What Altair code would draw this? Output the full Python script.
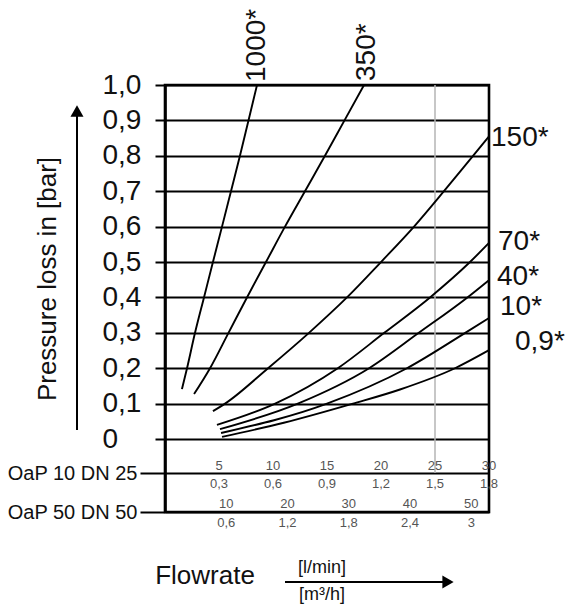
import altair as alt
import pandas as pd

# ---- Pressure-loss curves: flowrate in l/min (OaP 10 DN 25 scale) vs pressure loss in bar ----
series_names = ["1000*", "350*", "150*", "70*", "40*", "10*", "0,9*"]

flow_1000 = [1.57, 2.04, 2.78, 3.61, 4.44, 5.28, 6.11, 6.94, 7.73, 8.52]
loss_1000 = [0.141, 0.2, 0.3, 0.4, 0.5, 0.6, 0.7, 0.8, 0.9, 1.0]

flow_350 = [2.69, 4.17, 5.88, 7.59, 9.35, 11.11, 12.96, 14.81, 16.62, 18.43]
loss_350 = [0.127, 0.2, 0.3, 0.4, 0.5, 0.6, 0.7, 0.8, 0.9, 1.0]

flow_150 = [4.44, 5.56, 9.54, 13.33, 16.85, 20.0, 23.06, 25.83, 28.52, 30.0]
loss_150 = [0.079, 0.1, 0.2, 0.3, 0.4, 0.5, 0.6, 0.7, 0.8, 0.855]

flow_70 = [4.81, 10.2, 16.0, 20.3, 24.54, 28.24, 30.0]
loss_70 = [0.040, 0.1, 0.2, 0.3, 0.4, 0.5, 0.554]

flow_40 = [5.09, 12.3, 18.9, 23.5, 28.0, 30.0]
loss_40 = [0.028, 0.1, 0.2, 0.3, 0.4, 0.449]

flow_10 = [5.19, 15.0, 22.4, 27.8, 30.0]
loss_10 = [0.017, 0.1, 0.2, 0.3, 0.342]

flow_09 = [5.28, 11.0, 17.4, 21.76, 26.85, 30.0]
loss_09 = [0.006, 0.046, 0.1, 0.14, 0.2, 0.251]

# ---- Flowrate scales below the plot ----
dn25_lmin = [5, 10, 15, 20, 25, 30]
dn25_m3h = ["0,3", "0,6", "0,9", "1,2", "1,5", "1,8"]
dn50_lmin = [10, 20, 30, 40, 50]
dn50_m3h = ["0,6", "1,2", "1,8", "2,4", "3"]

y_tick_values = [round(i / 10, 1) for i in range(11)]

# scale levels (in bar-axis units) of the two flowrate scale lines and full-width DN 50 flow
DN25_LEVEL = -0.096
DN50_LEVEL = -0.206
DN50_FULL = 52.9
X_MAX = 30
GRAY_FLOW = 25

FONT = "Liberation Sans"

# ---- build tables ----
curve_flows = [flow_1000, flow_350, flow_150, flow_70, flow_40, flow_10, flow_09]
curve_losses = [loss_1000, loss_350, loss_150, loss_70, loss_40, loss_10, loss_09]
rows = []
for name, fl, ls in zip(series_names, curve_flows, curve_losses):
    for f, p in zip(fl, ls):
        rows.append({"series": name, "flow": f, "loss": p})
curves = pd.DataFrame(rows)

ends = pd.DataFrame({
    "series": series_names,
    "flow": [fl[-1] for fl in curve_flows],
    "loss": [ls[-1] for ls in curve_losses],
})

dn25 = pd.DataFrame({"lmin": dn25_lmin, "m3h": dn25_m3h, "lvl": DN25_LEVEL})
dn50 = pd.DataFrame({"lmin": dn50_lmin, "m3h": dn50_m3h, "lvl": DN50_LEVEL})

x_scale = alt.Scale(domain=[0, X_MAX], nice=False, zero=False)
y_scale = alt.Scale(domain=[DN50_LEVEL, 1.0], nice=False, zero=False)

label_expr = (
    "datum.value < -0.15 ? 'OaP 50 DN 50' : "
    "datum.value < -0.05 ? 'OaP 10 DN 25' : "
    "datum.value == 0 ? '0' : replace(format(datum.value, '.1f'), '.', ',')"
)

IS_DN = "datum.value < -0.05"

y_axis = alt.Axis(
    values=[DN50_LEVEL, DN25_LEVEL] + y_tick_values,
    labelExpr=label_expr,
    title=None,
    grid=True, gridColor="black", gridWidth=2, gridOpacity=1,
    domainColor="black", domainWidth=2.6,
    tickColor="black", tickWidth=2,
    tickSize={"condition": {"test": IS_DN, "value": 25}, "value": 10},
    labelFont=FONT, labelColor="#111111",
    labelFontSize={"condition": {"test": IS_DN, "value": 20}, "value": 28},
    labelPadding={"condition": {"test": IS_DN, "value": 3}, "value": 53},
    labelAlign={"condition": {"test": IS_DN, "value": "right"}, "value": "left"},
    labelOverlap=False, labelFlush=False,
)


def Y(field):
    return alt.Y(field, scale=y_scale, axis=y_axis)


def X(field):
    return alt.X(field, scale=x_scale, axis=None)


# gray vertical reference line at 25 l/min
gray = alt.Chart(pd.DataFrame({"flow": [GRAY_FLOW], "top": [1.0], "bot": [DN25_LEVEL]})).mark_rule(
    color="#b5b5b5", strokeWidth=1.5
).encode(x=X("flow:Q"), y=Y("top:Q"), y2="bot:Q")

lines = alt.Chart(curves).mark_line(
    color="black", strokeWidth=1.9, interpolate="monotone"
).encode(x=X("flow:Q"), y=Y("loss:Q"), detail="series:N")

layers = [gray, lines]

# right-hand labels (text offsets only)
right_offsets = {"150*": (2, 2), "70*": (9, -1), "40*": (8, -3), "10*": (11, -11), "0,9*": (26, -8)}
for name, (dx, dy) in right_offsets.items():
    layers.append(
        alt.Chart(ends[ends.series == name]).mark_text(
            align="left", baseline="middle", fontSize=28, font=FONT, color="#111111", dx=dx, dy=dy
        ).encode(x=X("flow:Q"), y=Y("loss:Q"), text="series:N")
    )

# top labels, rotated
top_offsets = {"1000*": (3, 0), "350*": (4, 3)}
for name, (dx, dy) in top_offsets.items():
    layers.append(
        alt.Chart(ends[ends.series == name]).mark_text(
            align="left", baseline="middle", angle=270, fontSize=28, font=FONT, color="#111111", dx=dx, dy=dy
        ).encode(x=X("flow:Q"), y=Y("loss:Q"), text="series:N")
    )

# flowrate scales
small = dict(fontSize=13, font=FONT, color="#555555", baseline="middle", align="center")
for txt, dy in [("lmin", -7), ("m3h", 11)]:
    layers.append(
        alt.Chart(dn25).mark_text(dy=dy, **small).encode(
            x=X("lmin:Q"), y=Y("lvl:Q"), text=alt.Text(f"{txt}:N")
        )
    )
for txt, dy in [("lmin", -8), ("m3h", 11)]:
    layers.append(
        alt.Chart(dn50).transform_calculate(
            xpos=f"datum.lmin * {X_MAX} / {DN50_FULL}"
        ).mark_text(dy=dy, **small).encode(
            x=X("xpos:Q"), y=Y("lvl:Q"), text=alt.Text(f"{txt}:N")
        )
    )

one = pd.DataFrame({"k": [0]})

# y title with arrow
layers.append(
    alt.Chart(one).mark_text(
        text="Pressure loss in [bar]", angle=270, fontSize=26, font=FONT, color="#111111",
        align="center", baseline="middle",
    ).encode(x=alt.value(-117), y=alt.value(194))
)
layers.append(
    alt.Chart(one).mark_rule(color="black", strokeWidth=2).encode(
        x=alt.value(-88), y=alt.value(345), y2=alt.value(28)
    )
)
layers.append(
    alt.Chart(one).mark_point(shape="triangle-up", filled=True, size=170, color="black", opacity=1).encode(
        x=alt.value(-88), y=alt.value(26)
    )
)

# x title with arrow and units
layers.append(
    alt.Chart(one).mark_text(
        text="Flowrate", fontSize=26, font=FONT, color="#111111", align="center", baseline="middle"
    ).encode(x=alt.value(40), y=alt.value(491))
)
layers.append(
    alt.Chart(one).mark_rule(color="black", strokeWidth=2).encode(
        x=alt.value(120), x2=alt.value(280), y=alt.value(497)
    )
)
layers.append(
    alt.Chart(one).mark_point(shape="triangle-right", filled=True, size=170, color="black", opacity=1).encode(
        x=alt.value(283), y=alt.value(497)
    )
)
layers.append(
    alt.Chart(one).mark_text(
        text="[l/min]", fontSize=18, font=FONT, color="#111111", align="center", baseline="middle"
    ).encode(x=alt.value(157), y=alt.value(483))
)
layers.append(
    alt.Chart(one).mark_text(
        text="[m³/h]", fontSize=18, font=FONT, color="#111111", align="center", baseline="middle"
    ).encode(x=alt.value(157), y=alt.value(510))
)

chart = alt.layer(*layers).properties(
    width=324,
    height=427,
    autosize=alt.AutoSizeParams(type="none"),
    padding={"left": 165, "top": 85, "right": 87, "bottom": 97},
    background="white",
).configure(font=FONT).configure_view(
    stroke="black", strokeWidth=2.6
)

chart.save("out.html", embed_options={"renderer": "svg", "actions": False})
